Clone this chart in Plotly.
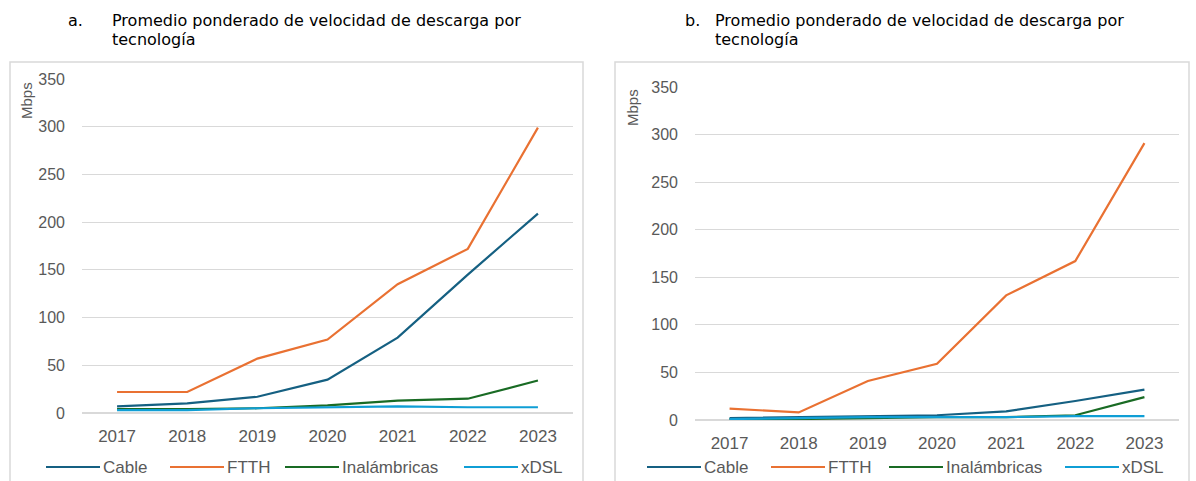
import plotly.graph_objects as go

W, H = 1196, 481

years = ["2017", "2018", "2019", "2020", "2021", "2022", "2023"]
series_names = ["Cable", "FTTH", "Inalámbricas", "xDSL"]
colors = ["#156082", "#E97132", "#196B24", "#0F9ED5"]

# Panel a
a_cable = [7, 10, 17, 35, 79, 145, 209]
a_ftth = [22, 22, 57, 77, 135, 172, 299]
a_inal = [4, 4, 5, 8, 13, 15, 34]
a_xdsl = [3, 3, 5, 6, 7, 6, 6]

# Panel b
b_cable = [2, 3, 4, 5, 9, 20, 32]
b_ftth = [12, 8, 41, 59, 131, 167, 291]
b_inal = [1, 1, 2, 3, 3, 5, 24]
b_xdsl = [1, 2, 3, 3, 3, 4, 4]

title_line1 = "Promedio ponderado de velocidad de descarga por"
title_line2 = "tecnología"
y_ticks = [0, 50, 100, 150, 200, 250, 300, 350]


def px(x):
    return x / W


def py(y):
    return 1 - y / H


FAMILY = "Liberation Sans, Arial, sans-serif"
GRAY = "#595959"
GRID = "#d9d9d9"

fig = go.Figure()

panels = [
    ("x", "y", [a_cable, a_ftth, a_inal, a_xdsl]),
    ("x2", "y2", [b_cable, b_ftth, b_inal, b_xdsl]),
]
for xa, ya, data in panels:
    for name, vals, col in zip(series_names, data, colors):
        fig.add_trace(go.Scatter(
            x=years, y=vals, name=name, mode="lines",
            line=dict(color=col, width=2.2),
            xaxis=xa, yaxis=ya, showlegend=False, hoverinfo="skip",
        ))

axis_common_x = dict(
    type="category", range=[-0.5, 6.5], showgrid=False, zeroline=False, showline=False,
    ticks="", tickfont=dict(family=FAMILY, size=17, color=GRAY),
    ticklabelstandoff=11, fixedrange=True, automargin=False,
)
axis_common_y = dict(
    range=[0, 350], tickvals=y_ticks, showgrid=True, gridcolor=GRID, gridwidth=1,
    zeroline=True, zerolinecolor=GRID, zerolinewidth=1.5, showline=False,
    ticks="", tickfont=dict(family=FAMILY, size=16, color=GRAY),
    ticklabelstandoff=16, fixedrange=True, automargin=False,
)

# Panel geometry (pixels)
left = dict(x0=82, x1=573, y0=413, y1=79)
right = dict(x0=695, x1=1179, y0=420, y1=87)

fig.update_layout(
    width=W, height=H,
    margin=dict(l=0, r=0, t=0, b=0, pad=0, autoexpand=False),
    paper_bgcolor="white", plot_bgcolor="white",
    xaxis=dict(domain=[px(left["x0"]), px(left["x1"])], anchor="y", **axis_common_x),
    yaxis=dict(domain=[py(left["y0"]), py(left["y1"])], anchor="x", **axis_common_y),
    xaxis2=dict(domain=[px(right["x0"]), px(right["x1"])], anchor="y2", **axis_common_x),
    yaxis2=dict(domain=[py(right["y0"]), py(right["y1"])], anchor="x2", **axis_common_y),
    showlegend=False,
)

# Chart frames
fig.add_shape(type="rect", xref="paper", yref="paper",
              x0=px(10), x1=px(583), y0=py(490), y1=py(62),
              line=dict(color="#d9d9d9", width=1.5), fillcolor="rgba(0,0,0,0)", layer="below")
fig.add_shape(type="rect", xref="paper", yref="paper",
              x0=px(615), x1=px(1189), y0=py(490), y1=py(62),
              line=dict(color="#d9d9d9", width=1.5), fillcolor="rgba(0,0,0,0)", layer="below")

# Legends (one per panel, Excel style: long line sample + label)
LEG_Y = 467
LINE_LEN = 54
legend_starts = [
    [46, 170, 285, 464],     # panel a
    [647, 771, 889, 1065],   # panel b
]
for starts in legend_starts:
    for name, col, x0 in zip(series_names, colors, starts):
        fig.add_shape(type="line", xref="paper", yref="paper",
                      x0=px(x0), x1=px(x0 + LINE_LEN), y0=py(LEG_Y), y1=py(LEG_Y),
                      line=dict(color=col, width=2.2))
        fig.add_annotation(xref="paper", yref="paper", x=px(x0 + LINE_LEN + 1), y=py(LEG_Y),
                           text=name, showarrow=False, xanchor="left", yanchor="middle",
                           font=dict(family=FAMILY, size=17, color=GRAY))

TITLE_FONT = dict(family="DejaVu Sans, Verdana, sans-serif", size=16, color="#000000")
for label, xl, xt in [("a.", 66, 110), ("b.", 683, 713)]:
    fig.add_annotation(xref="paper", yref="paper", x=px(xl), y=py(21), text=label,
                       showarrow=False, xanchor="left", yanchor="middle", font=TITLE_FONT)
    fig.add_annotation(xref="paper", yref="paper", x=px(xt), y=py(21), text=title_line1,
                       showarrow=False, xanchor="left", yanchor="middle", font=TITLE_FONT)
    fig.add_annotation(xref="paper", yref="paper", x=px(xt), y=py(39), text=title_line2,
                       showarrow=False, xanchor="left", yanchor="middle", font=TITLE_FONT)

# Y axis titles
for xm, ym in [(27, 101), (632, 108)]:
    fig.add_annotation(xref="paper", yref="paper", x=px(xm), y=py(ym), text="Mbps",
                       showarrow=False, textangle=-90, xanchor="center", yanchor="middle",
                       font=dict(family=FAMILY, size=15, color=GRAY))

fig.write_html("out.html", config={"displayModeBar": False},
               post_script="document.body.style.margin='0px';document.documentElement.style.overflow='hidden';")
